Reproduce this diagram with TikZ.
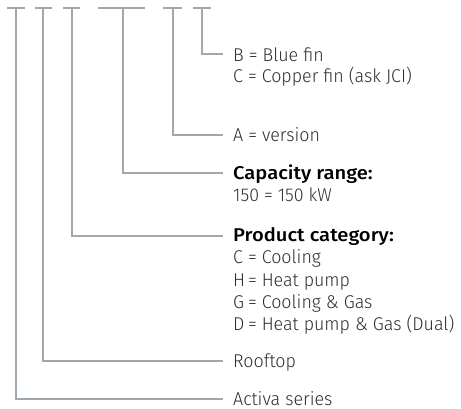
\documentclass[tikz,border=0pt]{standalone}
\usepackage{fontspec}
\setmainfont{Fira Sans}[UprightFont={* Light}, BoldFont={* Medium}, FakeStretch=0.965, BoldFeatures={FakeStretch=1.09}]
\definecolor{lncol}{HTML}{A0A8AD}
\definecolor{txcol}{HTML}{2E2E2E}
\tikzset{
  ln/.style={draw=lncol, line width=1.1pt},
  lbl/.style={anchor=base west, inner sep=0pt, text=txcol, font=\fontsize{18.5}{21}\selectfont},
  hdr/.style={lbl, text=black, font=\fontsize{18.5}{21}\selectfont\bfseries},
}
\newcommand{\ltr}[1]{\makebox[0.8em][l]{#1}}
\begin{document}
\begin{tikzpicture}[x=1pt,y=-1pt]
\useasboundingbox (0,0) rectangle (461,409);
% dash coordinates
\foreach \n/\l/\m/\r in {1/7/16/25, 2/35/43/52, 3/63/72/80, 4/98/123/145, 5/163/173/182, 6/193/202/211}{
  \coordinate (l\n) at (\l,8);
  \coordinate (m\n) at (\m,8);
  \coordinate (r\n) at (\r,8);
}
\coordinate (e1) at (223,399);
\coordinate (e2) at (223,361);
\coordinate (e3) at (223,236);
\coordinate (e4) at (223,173);
\coordinate (e5) at (223,135);
\coordinate (e6) at (223,54);
% texts
\node[lbl] (b1) at (233,61.5) {B = Blue fin};
\node[lbl] (b2) at (233,82.5) {C = Copper fin (ask JCI)};
\node[lbl] (a1) at (233,141.5) {A = version};
\node[hdr] (c1) at (233,180) {Capacity range:};
\node[lbl] (c2) at (233,202) {150 = 150 kW};
\node[hdr] (p0) at (233,242) {Product category:};
\node[lbl] (p1) at (233,264) {\ltr{C}= Cooling};
\node[lbl] (p2) at (233,286) {\ltr{H}= Heat pump};
\node[lbl] (p3) at (233,308) {\ltr{G}= Cooling \& Gas};
\node[lbl] (p4) at (233,330) {\ltr{D}= Heat pump \& Gas (Dual)};
\node[lbl] (rt) at (233,367.5) {Rooftop};
\node[lbl] (as) at (233,405) {Activa series};
% connectors
\foreach \n in {1,...,6}{
  \draw[ln] (l\n) -- (r\n);
  \draw[ln] (m\n) |- (e\n);
}
\end{tikzpicture}
\end{document}
